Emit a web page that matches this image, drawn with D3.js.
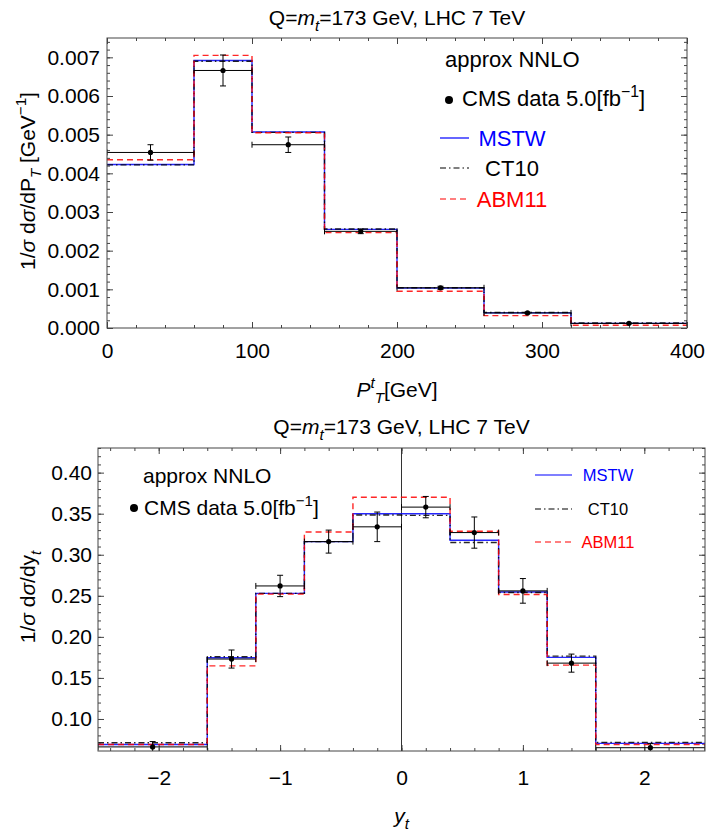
<!DOCTYPE html>
<html>
<head>
<meta charset="utf-8">
<script src="https://cdn.jsdelivr.net/npm/d3@7"></script>
<style>
  body { margin: 0; background: #fff; }
  text { font-family: "Liberation Sans", Arial, sans-serif; fill: #000; }
</style>
</head>
<body>
<div id="chart"></div>
<script>
// top panel: transverse momentum bins (GeV)
const ptEdges = [0, 60, 100, 150, 200, 260, 320, 400];
const ptCenters = [30, 80, 125, 175, 230, 290, 360];
const ptMstw = [0.00423, 0.00692, 0.00507, 0.00255, 0.00103, 0.00039, 0.00012];
const ptCt10 = [0.00422, 0.00690, 0.00506, 0.00256, 0.00104, 0.00040, 0.00013];
const ptAbm11 = [0.00435, 0.00705, 0.00505, 0.00247, 0.00095, 0.00032, 0.00007];
const ptCms = [0.00454, 0.00666, 0.00474, 0.00250, 0.00104, 0.00039, 0.00012];
const ptCmsErr = [0.00020, 0.00040, 0.00020, 0.00006, 0.00004, 0.00002, 0.00001];
const ptXTicks = [0, 100, 200, 300, 400];
const ptYTicks = [0, 0.001, 0.002, 0.003, 0.004, 0.005, 0.006, 0.007];

// bottom panel: rapidity bins
const yEdges = [-2.5, -1.6, -1.2, -0.8, -0.4, 0, 0.4, 0.8, 1.2, 1.6, 2.5];
const yCenters = [-2.05, -1.4, -1.0, -0.6, -0.2, 0.2, 0.6, 1.0, 1.4, 2.05];
const yMstw = [0.069, 0.1745, 0.253, 0.316, 0.350, 0.350, 0.3176, 0.2547, 0.175, 0.0703];
const yCt10 = [0.071, 0.1757, 0.253, 0.316, 0.3484, 0.348, 0.315, 0.254, 0.1765, 0.0715];
const yAbm11 = [0.069, 0.1647, 0.252, 0.3277, 0.370, 0.370, 0.3286, 0.2516, 0.1656, 0.069];
const yCms = [0.066, 0.173, 0.262, 0.316, 0.334, 0.358, 0.327, 0.256, 0.168, 0.065];
const yCmsErr = [0.0065, 0.011, 0.013, 0.014, 0.018, 0.013, 0.019, 0.015, 0.011, 0.005];
const yXTicks = [-2, -1, 0, 1, 2];
const yYTicks = [0.10, 0.15, 0.20, 0.25, 0.30, 0.35, 0.40];

const seriesNames = ["MSTW", "CT10", "ABM11"];
const seriesColors = ["#0000ff", "#000000", "#ff0000"];
const seriesDash = [null, "6,3,1.5,3", "6,4"];

const svg = d3.select("#chart").append("svg")
    .attr("width", 706)
    .attr("height", 834);

// text with italic / sub / superscript pieces
const rich = (sel, parts, size) => {
    let shift = 0;
    parts.forEach(p => {
        const str = p[0], flags = p[1] || "";
        const small = flags.includes("sub") || flags.includes("sup");
        const target = flags.includes("sub") ? 0.28 * size : flags.includes("sup") ? -0.42 * size : 0;
        const ts = sel.append("tspan").text(str).attr("dy", target - shift);
        shift = target;
        if (small) ts.style("font-size", (size * 0.72) + "px");
        if (flags.includes("i")) ts.style("font-style", "italic");
    });
};

const titleParts = [["Q="], ["m", "i"], ["t", "i sub"], ["=173 GeV, LHC 7 TeV"]];

const drawPanel = (cfg) => {
    const g = svg.append("g").attr("transform", `translate(${cfg.left},${cfg.top})`);
    const w = cfg.width, h = cfg.height;

    const x = d3.scaleLinear().domain(cfg.xDomain).range([0, w]);
    const y = d3.scaleLinear().domain(cfg.yDomain).range([h, 0]);

    // minor ticks on all four sides
    const minor = (axis, scale, vals, tr) => {
        g.append("g").attr("transform", tr)
            .call(axis(scale).tickValues(vals).tickSize(-3).tickFormat(""))
            .call(a => a.select(".domain").remove())
            .selectAll("line").attr("stroke", "#444");
    };
    minor(d3.axisBottom, x, cfg.xMinor, `translate(0,${h})`);
    minor(d3.axisTop, x, cfg.xMinor, "translate(0,0)");
    minor(d3.axisLeft, y, cfg.yMinor, "translate(0,0)");
    minor(d3.axisRight, y, cfg.yMinor, `translate(${w},0)`);

    // major ticks + labels
    g.append("g").attr("transform", `translate(0,${h})`)
        .call(d3.axisBottom(x).tickValues(cfg.xTicks).tickSize(-6).tickPadding(cfg.xPad).tickFormat(d3.format(cfg.xFmt)))
        .call(a => a.select(".domain").remove())
        .call(a => a.selectAll("line").attr("stroke", "#444"))
        .call(a => a.selectAll("text").style("font-size", "21px").attr("fill", "#000"));
    g.append("g")
        .call(d3.axisTop(x).tickValues(cfg.xTicks).tickSize(-6).tickFormat(""))
        .call(a => a.select(".domain").remove())
        .selectAll("line").attr("stroke", "#444");
    g.append("g")
        .call(d3.axisLeft(y).tickValues(cfg.yTicks).tickSize(-6).tickPadding(cfg.yPad).tickFormat(d3.format(cfg.yFmt)))
        .call(a => a.select(".domain").remove())
        .call(a => a.selectAll("line").attr("stroke", "#444"))
        .call(a => a.selectAll("text").style("font-size", "21px").attr("fill", "#000"));
    g.append("g").attr("transform", `translate(${w},0)`)
        .call(d3.axisRight(y).tickValues(cfg.yTicks).tickSize(-6).tickFormat(""))
        .call(a => a.select(".domain").remove())
        .selectAll("line").attr("stroke", "#444");

    if (cfg.zeroLine) {
        g.append("line")
            .attr("x1", x(0)).attr("x2", x(0))
            .attr("y1", 0).attr("y2", h)
            .attr("stroke", "#333").attr("stroke-width", 1);
    }

    const clip = "clip" + cfg.id;
    g.append("clipPath").attr("id", clip)
        .append("rect").attr("width", w).attr("height", h);
    const plot = g.append("g").attr("clip-path", `url(#${clip})`);

    // step histograms
    const line = d3.line().x(d => x(d[0])).y(d => y(d[1]));
    cfg.series.forEach((vals, i) => {
        const pts = [];
        vals.forEach((v, j) => {
            pts.push([cfg.edges[j], v]);
            pts.push([cfg.edges[j + 1], v]);
        });
        plot.append("path")
            .attr("d", line(pts))
            .attr("fill", "none")
            .attr("stroke", seriesColors[i])
            .attr("stroke-width", 1.4)
            .attr("stroke-dasharray", seriesDash[i])
            .attr("opacity", 0.85);
    });

    // CMS data with error bars
    const dataG = plot.append("g").attr("stroke", "#000").attr("stroke-width", 1);
    cfg.cms.forEach((v, j) => {
        const cx = x(cfg.centers[j]), cy = y(v);
        const x0 = x(cfg.edges[j]), x1 = x(cfg.edges[j + 1]);
        const yHi = y(v + cfg.cmsErr[j]), yLo = y(v - cfg.cmsErr[j]);
        dataG.append("line").attr("x1", x0).attr("x2", x1).attr("y1", cy).attr("y2", cy);
        dataG.append("line").attr("x1", x0).attr("x2", x0).attr("y1", cy - 3).attr("y2", cy + 3);
        dataG.append("line").attr("x1", x1).attr("x2", x1).attr("y1", cy - 3).attr("y2", cy + 3);
        dataG.append("line").attr("x1", cx).attr("x2", cx).attr("y1", yHi).attr("y2", yLo);
        dataG.append("line").attr("x1", cx - 3).attr("x2", cx + 3).attr("y1", yHi).attr("y2", yHi);
        dataG.append("line").attr("x1", cx - 3).attr("x2", cx + 3).attr("y1", yLo).attr("y2", yLo);
        dataG.append("circle").attr("cx", cx).attr("cy", cy).attr("r", 2.6)
            .attr("fill", "#000").attr("stroke", "none");
    });

    // frame
    g.append("rect").attr("width", w).attr("height", h)
        .attr("fill", "none").attr("stroke", "#444").attr("stroke-width", 1);

    // title
    const t = svg.append("text")
        .attr("x", cfg.left + w / 2)
        .attr("y", cfg.titleY)
        .attr("text-anchor", "middle")
        .style("font-size", "21px");
    rich(t, titleParts, 21);

    // axis labels
    const xl = svg.append("text")
        .attr("x", cfg.left + w / 2)
        .attr("y", cfg.xLabelY)
        .attr("text-anchor", "middle")
        .style("font-size", "21px");
    rich(xl, cfg.xLabel, 21);

    const yl = svg.append("text")
        .attr("transform", `translate(35,${cfg.yLabelCy}) rotate(-90)`)
        .attr("text-anchor", "middle")
        .style("font-size", "21px");
    rich(yl, cfg.yLabel, 21);

    return g;
};

drawPanel({
    id: "pt",
    left: 107, top: 38, width: 580, height: 290,
    xDomain: [0, 400], yDomain: [0, 0.0075],
    xTicks: ptXTicks, xMinor: d3.range(0, 21).map(i => i * 20),
    yTicks: ptYTicks, yMinor: d3.range(0, 38).map(i => i * 0.0002),
    xFmt: "d", yFmt: ".3f", xPad: 15, yPad: 7,
    edges: ptEdges, centers: ptCenters,
    series: [ptMstw, ptCt10, ptAbm11],
    cms: ptCms, cmsErr: ptCmsErr,
    titleY: 25, xLabelY: 397, yLabelCy: 181,
    xLabel: [["P", "i"], ["t", "i sup"], ["T", "i sub"], ["[GeV]"]],
    yLabel: [["1/"], ["σ", "i"], [" d"], ["σ", "i"], ["/dP"], ["T", "i sub"], [" [GeV"], ["−1", "sup"], ["]"]]
});

drawPanel({
    id: "rap",
    left: 98, top: 448, width: 607, height: 303,
    xDomain: [-2.5, 2.5], yDomain: [0.061, 0.43],
    xTicks: yXTicks, xMinor: d3.range(-12, 13).map(i => i / 5),
    yTicks: yYTicks, yMinor: d3.range(7, 44).map(i => i / 100),
    xFmt: "d", yFmt: ".2f", xPad: 19, yPad: 6,
    edges: yEdges, centers: yCenters,
    series: [yMstw, yCt10, yAbm11],
    cms: yCms, cmsErr: yCmsErr, zeroLine: true,
    titleY: 434, xLabelY: 823, yLabelCy: 597,
    xLabel: [["y", "i"], ["t", "i sub"]],
    yLabel: [["1/"], ["σ", "i"], [" d"], ["σ", "i"], ["/dy"], ["t", "i sub"]]
});

// legend rows: line sample + coloured name
const legend = (items, lx0, lx1, textX, ys, baseDy, size) => {
    items.forEach((name, i) => {
        svg.append("line")
            .attr("x1", lx0).attr("x2", lx1)
            .attr("y1", ys[i]).attr("y2", ys[i])
            .attr("stroke", seriesColors[i])
            .attr("stroke-width", 1.2)
            .attr("stroke-dasharray", seriesDash[i]);
        svg.append("text")
            .attr("x", textX).attr("y", ys[i] + baseDy)
            .attr("text-anchor", "middle")
            .style("fill", seriesColors[i])
            .style("font-size", size + "px")
            .text(name);
    });
};

// top panel legend
svg.append("text").attr("x", 445).attr("y", 67).style("font-size", "22px").text("approx NNLO");
svg.append("circle").attr("cx", 449).attr("cy", 100).attr("r", 4).attr("fill", "#000");
rich(svg.append("text").attr("x", 462).attr("y", 106).style("font-size", "22px"),
    [["CMS data 5.0[fb"], ["−1", "sup"], ["]"]], 22);
legend(seriesNames, 440, 469, 512, [138, 168, 199], 8, 22);

// bottom panel legend
svg.append("text").attr("x", 143).attr("y", 483).style("font-size", "21px").text("approx NNLO");
svg.append("circle").attr("cx", 134).attr("cy", 508).attr("r", 4).attr("fill", "#000");
rich(svg.append("text").attr("x", 144).attr("y", 515).style("font-size", "21px"),
    [["CMS data 5.0[fb"], ["−1", "sup"], ["]"]], 21);
legend(seriesNames, 535, 572, 608, [475, 509, 542], 6, 16.5);
</script>
</body>
</html>
